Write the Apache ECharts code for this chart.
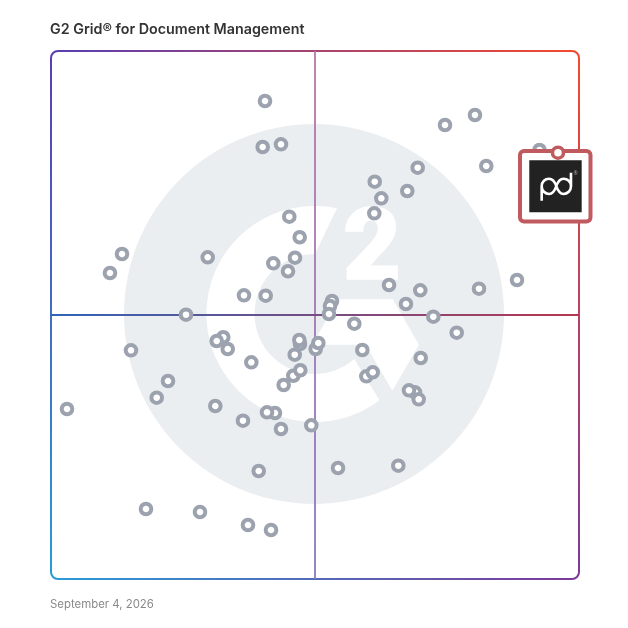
<!DOCTYPE html>
<html>
<head>
<meta charset="utf-8">
<style>html,body{margin:0;padding:0;background:#fff}#c{width:628px;height:628px}</style>
<script src="https://cdn.jsdelivr.net/npm/echarts@6/dist/echarts.min.js"></script>
</head>
<body>
<div id="c"></div>
<script>
var chartTitle = 'G2 Grid® for Document Management';
var chartDate = 'September 4, 2026';
var vendorX = [40.53,80.30,74.62,40.09,43.56,92.52,82.44,69.45,61.31,67.48,62.56,61.23,45.13,47.10,13.45,29.68,46.21,42.10,44.89,11.17,88.26,64.02,81.06,69.94,36.55,40.66,53.22,67.23,52.84,52.65,25.57,72.41,57.44,76.84,32.63,31.38,33.47,15.15,47.16,47.03,50.13,50.63,46.16,58.96,70.02,37.94,44.07,45.89,47.22,59.72,60.93,22.16,20.02,68.94,67.80,69.64,3.03,31.12,42.42,40.91,36.36,49.30,43.56,65.78,54.36,39.34,17.99,28.22,37.31,41.67];
var vendorY = [90.53,87.88,85.98,81.82,82.33,81.25,78.22,77.90,75.25,73.48,72.10,69.26,68.62,64.72,61.55,60.93,60.85,59.79,58.28,57.95,56.63,55.68,54.98,54.68,53.73,53.66,52.65,52.08,51.70,50.19,50.06,49.68,48.35,46.65,45.78,45.08,43.56,43.31,44.51,45.27,43.56,44.70,42.48,43.37,41.86,41.04,36.74,38.50,39.53,38.39,39.15,37.50,34.34,35.36,35.74,34.03,32.20,32.77,31.44,31.57,29.98,29.11,28.41,21.46,21.02,20.45,13.26,12.69,10.23,9.28];
var featuredX = [96.02];
var featuredY = [80.74];

var L = 51, T = 51, R = 579, B = 579, CR = 7;
var cTL = '#5a3fb0', cTR = '#f4492e', cBR = '#7d3a9a', cBL = '#2a9ad6';
var G = echarts.graphic;
function grad(x1, y1, x2, y2, a, b) {
  return new G.LinearGradient(x1, y1, x2, y2, [{offset:0,color:a},{offset:1,color:b}], true);
}
function side(x1, y1, x2, y2, a, b) {
  return {type:'line', z:1, silent:true, shape:{x1:x1,y1:y1,x2:x2,y2:y2},
    style:{stroke:grad(x1,y1,x2,y2,a,b), lineWidth:2, fill:null}};
}
function corner(cx, cy, s, color) {
  return {type:'arc', z:1, silent:true, shape:{cx:cx,cy:cy,r:CR,startAngle:s,endAngle:s+Math.PI/2,clockwise:true},
    style:{stroke:color, lineWidth:2, fill:null}};
}
function ring(cx, cy, rO, rI, a1, a2, b1, b2) {
  var pts = [], n = 90, i, t;
  for (i = 0; i <= n; i++) { t = (a1 + (a2 - a1) * i / n) * Math.PI / 180; pts.push([cx + rO * Math.cos(t), cy + rO * Math.sin(t)]); }
  for (i = n; i >= 0; i--) { t = (b1 + (b2 - b1) * i / n) * Math.PI / 180; pts.push([cx + rI * Math.cos(t), cy + rI * Math.sin(t)]); }
  return pts;
}
var logoGraphics = [
  {type:'circle', z:0, silent:true, shape:{cx:314,cy:314,r:190}, style:{fill:'#ebeef1'}},
  {type:'polygon', z:0, silent:true, shape:{points:ring(314.5,314,108,60,-78,-307,-89.5,-311.5)}, style:{fill:'#fff'}},
  {type:'polygon', z:0, silent:true, shape:{points:[[338.3,299.3],[392.7,299.3],[419,344.7],[392.3,390.7],[365.7,344.7],[312,344.7]]}, style:{fill:'#fff'}},
  {type:'text', z:0, silent:true, x:372, y:254, style:{text:'2', fill:'#fff', stroke:'#fff', lineWidth:1.5, font:'900 100px Roboto', align:'center', verticalAlign:'middle'}}
];
var frameGraphics = [
  side(L+CR,T,R-CR,T,cTL,cTR), side(R,T+CR,R,B-CR,cTR,cBR),
  side(L+CR,B,R-CR,B,cBL,cBR), side(L,T+CR,L,B-CR,cTL,cBL),
  corner(L+CR,T+CR,Math.PI,cTL), corner(R-CR,T+CR,-Math.PI/2,cTR),
  corner(R-CR,B-CR,0,cBR), corner(L+CR,B-CR,Math.PI/2,cBL)
];
var pdPath = 'M0 28 L0 13.5 C0 9 3.5 6 7.3 6 C11 6 13 8.5 14.6 13.5 C16.3 18.5 18 21.3 21.8 21.3 C25.8 21.3 29.3 18 29.3 13.5 L29.3 0 M29.3 13.5 C29.3 9 25.8 6 21.8 6 C18 6 16.3 8.5 14.6 13.5 C13 18.5 11 21.3 7.3 21.3 C3.5 21.3 0 18 0 13.5';

function renderBadge(params, api) {
  var p = api.coord([api.value(0), api.value(1)]);
  var x = p[0], y = p[1];
  return {type:'group', children:[
    {type:'rect', shape:{x:x-38,y:y-1.7,width:70.5,height:70.5,r:4}, style:{fill:'#fff',stroke:'#c05a5f',lineWidth:4}},
    {type:'rect', shape:{x:x-28.7,y:y+7.6,width:52.4,height:52}, style:{fill:'#222'}},
    {type:'path', shape:{pathData:pdPath,layout:'cover',x:x-16.3,y:y+20,width:29.3,height:28}, style:{fill:null,stroke:'#fff',lineWidth:2.6}},
    {type:'text', x:x+15.5, y:y+20.5, style:{text:'®',fill:'#aaa',font:'5px "Noto Sans"',align:'left',verticalAlign:'middle'}}
  ]};
}

var chart = echarts.init(document.getElementById('c'), null, {renderer:'canvas'});
chart.setOption({
  animation:false,
  backgroundColor:'#fff',
  title:[
    {text:chartTitle, left:50, top:23, padding:0, textStyle:{fontFamily:'Inter',fontWeight:600,fontSize:14.3,color:'#333'}},
    {text:chartDate, left:50, top:599, padding:0, textStyle:{fontFamily:'Inter',fontWeight:400,fontSize:11.4,color:'#8a8a8a'}}
  ],
  grid:{left:L, top:T, width:R-L, height:B-T},
  xAxis:{type:'value', min:0, max:100, show:false},
  yAxis:{type:'value', min:0, max:100, show:false},
  graphic:{elements:logoGraphics.concat(frameGraphics)},
  series:[
    {type:'scatter', z:3, silent:true, symbol:'circle', symbolSize:10.6,
     itemStyle:{color:'#fff',borderColor:'#9ca3af',borderWidth:4,opacity:1},
     data:vendorX.map(function(x,i){return [x,vendorY[i]];}),
     markLine:{z:1, silent:true, symbol:'none', animation:false, label:{show:false},
       data:[
         {xAxis:50, lineStyle:{width:1.8,type:'solid',color:grad(315,T,315,B,'#b877a6','#8878c0')}},
         {yAxis:50, lineStyle:{width:1.8,type:'solid',color:grad(L,315,R,315,'#2f64b8','#b8374f')}}
       ]}},
    {type:'custom', z:4, silent:true, renderItem:renderBadge, clip:false,
     data:featuredX.map(function(x,i){return [x,featuredY[i]];})},
    {type:'scatter', z:5, silent:true, symbol:'circle', symbolSize:11, clip:false,
     itemStyle:{color:'#fff',borderColor:'#c05a5f',borderWidth:3.5,opacity:1},
     data:featuredX.map(function(x,i){return [x,featuredY[i]];})}
  ]
});
</script>
</body>
</html>
